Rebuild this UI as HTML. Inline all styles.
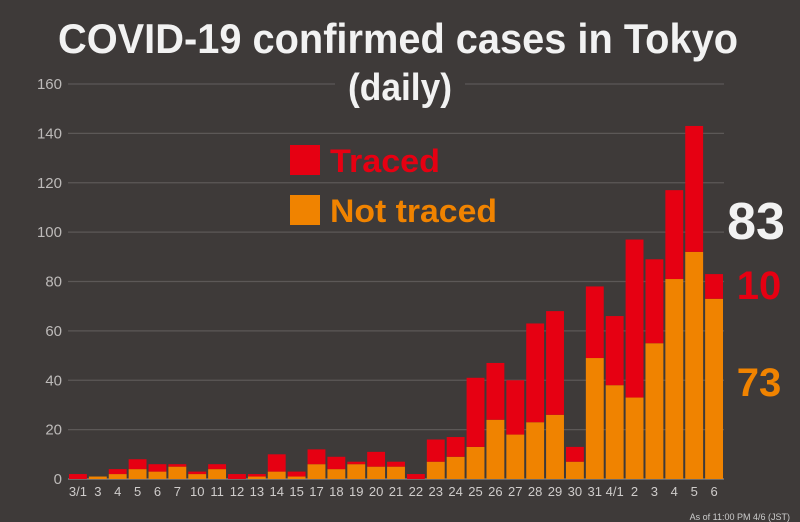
<!DOCTYPE html>
<html><head><meta charset="utf-8"><style>
html,body{margin:0;padding:0;background:#3e3a39;}
svg{display:block;font-family:"Liberation Sans",sans-serif;}
</style></head><body>
<svg id="chart" width="800" height="522" viewBox="0 0 800 522">
<rect width="800" height="522" fill="#3e3a39"/>
<g id="grid"></g>
<g id="bars"></g>
<g id="xlabels"></g>
<text x="398" y="53" text-anchor="middle" font-size="42" font-weight="bold" fill="#f2f2f2" textLength="680" lengthAdjust="spacingAndGlyphs">COVID-19 confirmed cases in Tokyo</text>
<rect x="335" y="68" width="130" height="44" fill="#3e3a39"/>
<text x="400" y="100" text-anchor="middle" font-size="38" font-weight="bold" fill="#f2f2f2" textLength="104" lengthAdjust="spacingAndGlyphs">(daily)</text>
<g>
<rect x="290" y="145" width="30" height="30" fill="#e60012"/>
<text x="330" y="172" font-size="32" font-weight="bold" fill="#e60012" textLength="110" lengthAdjust="spacingAndGlyphs">Traced</text>
<rect x="290" y="195" width="30" height="30" fill="#f08300"/>
<text x="330" y="222" font-size="32" font-weight="bold" fill="#f08300" textLength="167" lengthAdjust="spacingAndGlyphs">Not traced</text>
</g>
<text x="756" y="239" text-anchor="middle" font-size="52" font-weight="bold" fill="#f2f2f2">83</text>
<text x="759" y="299" text-anchor="middle" font-size="40" font-weight="bold" fill="#e60012">10</text>
<text x="759" y="396" text-anchor="middle" font-size="40" font-weight="bold" fill="#f08300">73</text>
<text x="790" y="520" text-anchor="end" font-size="9" fill="#cccccc">As of 11:00 PM 4/6 (JST)</text>
</svg>
<script>
const categories=["3/1","3","4","5","6","7","10","11","12","13","14","15","17","18","19","20","21","22","23","24","25","26","27","28","29","30","31","4/1","2","3","4","5","6"];
const notTraced=[0,1,2,4,3,5,2,4,0,1,3,1,6,4,6,5,5,0,7,9,13,24,18,23,26,7,49,38,33,55,81,92,73];
const traced=[2,0,2,4,3,1,1,2,2,1,7,2,6,5,1,6,2,2,9,8,28,23,22,40,42,6,29,28,64,34,36,51,10];
const yTicks=[0,20,40,60,80,100,120,140,160];
const NS="http://www.w3.org/2000/svg";
const x0=68,x1=724,y0=479,yTop=84,yMax=160;
const y=v=>y0-(v/yMax)*(y0-yTop);
const step=(x1-x0)/categories.length;
const grid=document.getElementById('grid'),bars=document.getElementById('bars'),xl=document.getElementById('xlabels');
function mk(tag,attrs,parent){const e=document.createElementNS(NS,tag);for(const k in attrs)e.setAttribute(k,attrs[k]);parent.appendChild(e);return e;}
yTicks.forEach(t=>{
  const l=mk('line',{x1:x0,x2:x1,y1:y(t),y2:y(t),stroke:t===0?'#8a8685':'#5c5857','stroke-width':1.2},grid);
  
  
  const tx=mk('text',{x:62,y:y(t)+5,'text-anchor':'end','font-size':15,fill:'#bdbab9'},grid);
  tx.textContent=t;
  
  
});
categories.forEach((c,i)=>{
  const bx=x0+i*step+1,bw=step-2;
  const o=mk('rect',{x:bx,y:y(notTraced[i]),width:bw,height:y0-y(notTraced[i]),fill:'#f08300'},bars);
  
  
  const tot=notTraced[i]+traced[i];
  const r=mk('rect',{x:bx,y:y(tot),width:bw,height:y(notTraced[i])-y(tot),fill:'#e60012'},bars);
  
  
  const t=mk('text',{x:x0+(i+0.5)*step,y:496,'text-anchor':'middle','font-size':13,fill:'#cfcccb'},xl);
  t.textContent=c;
  
  
});
</script>
</body></html>
